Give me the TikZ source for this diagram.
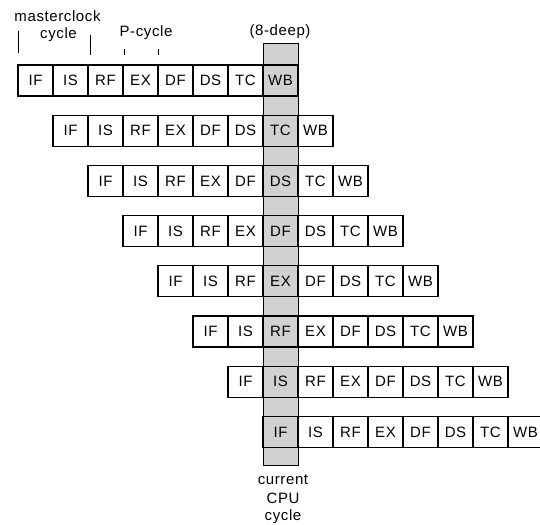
\documentclass[tikz,border=0pt]{standalone}
\usepackage{fontspec}
\setmainfont{Liberation Sans}[LetterSpace=4]
\begin{document}
\begin{tikzpicture}[x=1bp,y=-1bp,
  font=\fontsize{15bp}{18bp}\selectfont,
  stagebox/.style={draw,line width=1.1pt,minimum width=35bp,minimum height=31bp,
    inner sep=0pt,outer sep=0pt,anchor=center},
  lbl/.style={inner sep=0pt,anchor=center},
  tick/.style={line width=0.9pt},
  window/.style={draw,line width=1.1pt,fill=black!18}]
\useasboundingbox (0,0) rectangle (540,525);

% the shaded window: the current CPU cycle, eight stages deep
\node[window,minimum width=35bp,minimum height=422bp,inner sep=0pt,anchor=north west]
  (win) at (263,43) {};

% eight overlapping instructions, each shifted by one P-cycle
\foreach \r in {1,...,8}{
  \foreach \s [count=\c] in {IF,IS,RF,EX,DF,DS,TC,WB}{
    \node[stagebox] (r\r c\c) at ({18+35*(\r-1)+35*(\c-1)+17.5},{80.5+50.2*(\r-1)}) {\s};
  }
}

% cycle labels and their tick marks
\node[lbl] (mc) at (57.5,16) {masterclock};
\node[lbl] (mcc) at (58.5,35) {cycle};
\node[lbl] (pc) at (146,33) {P-cycle};
\node[lbl] (deep) at (280,32) {(8-deep)};

\coordinate (t1a) at (18,31);  \coordinate (t1b) at (18,53);
\coordinate (t2a) at (90,35);  \coordinate (t2b) at (90,55);
\coordinate (t3a) at (124,49); \coordinate (t3b) at (124,55);
\coordinate (t4a) at (158,49); \coordinate (t4b) at (158,55);
\draw[tick] (t1a) -- (t1b);
\draw[tick] (t2a) -- (t2b);
\draw[tick] (t3a) -- (t3b);
\draw[tick] (t4a) -- (t4b);

% caption under the window
\node[lbl] (cur) at (283,480) {current};
\node[lbl] (cpu) at (283,498) {CPU};
\node[lbl] (cyc) at (283,517) {cycle};
\end{tikzpicture}
\end{document}
